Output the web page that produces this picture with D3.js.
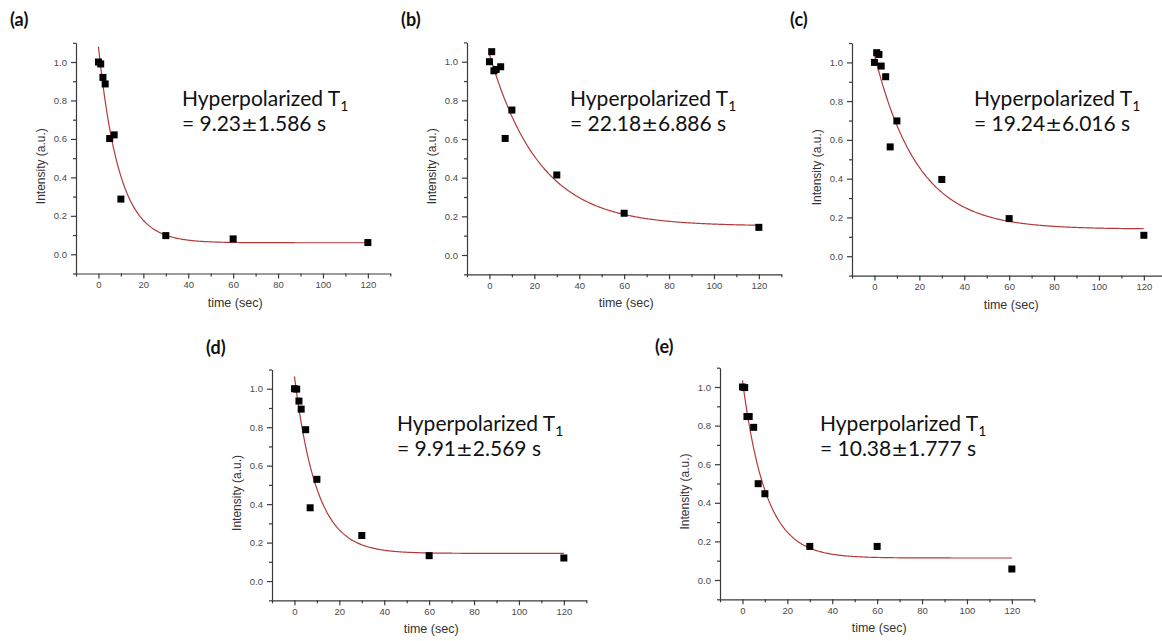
<!DOCTYPE html>
<html>
<head>
<meta charset="utf-8">
<script src="https://cdn.jsdelivr.net/npm/d3@7"></script>
<style>
  html, body { margin: 0; padding: 0; background: #fff; }
  svg { display: block; }
</style>
</head>
<body>
<script>
// Panel identifiers
const panelLabels = ["(a)", "(b)", "(c)", "(d)", "(e)"];

// Sampling times (s) and measured intensities (a.u.) for each panel
const timesA = [0, 1, 2, 3, 5, 7, 10, 30, 60, 120];
const intensA = [1.0, 0.99, 0.92, 0.886, 0.602, 0.621, 0.287, 0.097, 0.080, 0.061];

const timesB = [0, 1, 2, 3, 5, 7, 10, 30, 60, 120];
const intensB = [1.0, 1.052, 0.953, 0.960, 0.974, 0.603, 0.750, 0.414, 0.216, 0.143];

const timesC = [0, 1, 2, 3, 5, 7, 10, 30, 60, 120];
const intensC = [1.0, 1.050, 1.041, 0.981, 0.926, 0.564, 0.698, 0.396, 0.194, 0.108];

const timesD = [0, 1, 2, 3, 5, 7, 10, 30, 60, 120];
const intensD = [1.0, 0.998, 0.936, 0.894, 0.787, 0.381, 0.529, 0.237, 0.132, 0.120];

const timesE = [0, 1, 2, 3, 5, 7, 10, 30, 60, 120];
const intensE = [1.0, 0.997, 0.847, 0.847, 0.791, 0.499, 0.447, 0.174, 0.174, 0.057];

const panelTimes = [timesA, timesB, timesC, timesD, timesE];
const panelIntens = [intensA, intensB, intensC, intensD, intensE];

// Mono-exponential fit: I(t) = offset + amplitude * exp(-t / T1)
const fitT1 = [9.23, 22.18, 19.24, 9.91, 10.38];
const fitT1Err = [1.586, 6.886, 6.016, 2.569, 1.777];
const fitOffset = [0.06, 0.15, 0.14, 0.144, 0.114];
const fitAmplitude = [1.02, 0.89, 0.90, 0.92, 0.92];

// Axis ticks
const xMajorTicks = [0, 20, 40, 60, 80, 100, 120];
const xMinorTicks = [-10, 10, 30, 50, 70, 90, 110, 130];
const yMajorTicks = [0.0, 0.2, 0.4, 0.6, 0.8, 1.0];
const yMinorTicks = [-0.1, 0.1, 0.3, 0.5, 0.7, 0.9, 1.1];

// Plot frame for each panel (left edge, top, bottom of the axes box) and
// position of the panel letter and the T1 annotation
const frames = [
  { left: 76,  top: 42.8,  bottom: 273.5, labelX: 10,  labelY: 26,  noteX: 182, noteY: 106 },
  { left: 467, top: 42.4,  bottom: 274.3, labelX: 401, labelY: 26,  noteX: 570, noteY: 106 },
  { left: 852, top: 43.0,  bottom: 275.6, labelX: 790, labelY: 26,  noteX: 974, noteY: 106 },
  { left: 272, top: 369.5, bottom: 600.3, labelX: 206, labelY: 354, noteX: 397, noteY: 431 },
  { left: 720, top: 367.7, bottom: 599.3, labelX: 655, labelY: 353, noteX: 820, noteY: 431 }
];
const plotWidth = 314.3;

const W = 1162, H = 641;
const svg = d3.select("body").append("svg")
  .attr("width", W).attr("height", H)
  .attr("viewBox", `0 0 ${W} ${H}`);

const axisColor = "#3a3a3a";
const tickTextColor = "#4a4a4a";
const fitColor = "#b33a3a";
const axisFont = "'Liberation Sans', Arial, sans-serif";
const noteFont = "Lato, 'Open Sans', sans-serif";

panelLabels.forEach((label, i) => {
  const f = frames[i];
  const g = svg.append("g");

  const x = d3.scaleLinear().domain([-10, 130]).range([f.left, f.left + plotWidth]);
  const y = d3.scaleLinear().domain([-0.1, 1.1]).range([f.bottom, f.top]);

  // x axis: major ticks with labels, minor ticks without
  const gx = g.append("g").attr("transform", `translate(0,${f.bottom})`);
  gx.call(d3.axisBottom(x).tickValues(xMajorTicks).tickSize(5).tickSizeOuter(0)
    .tickPadding(3).tickFormat(d3.format("d")));
  gx.append("g").call(d3.axisBottom(x).tickValues(xMinorTicks).tickSize(3).tickSizeOuter(0).tickFormat(""))
    .select(".domain").remove();

  // y axis
  const gy = g.append("g").attr("transform", `translate(${f.left},0)`);
  gy.call(d3.axisLeft(y).tickValues(yMajorTicks).tickSize(5).tickSizeOuter(0)
    .tickPadding(4).tickFormat(d3.format(".1f")));
  gy.append("g").call(d3.axisLeft(y).tickValues(yMinorTicks).tickSize(3).tickSizeOuter(0).tickFormat(""))
    .select(".domain").remove();

  [gx, gy].forEach(a => {
    a.selectAll("path, line").attr("stroke", axisColor).attr("stroke-width", 1.2);
    a.selectAll("text").attr("fill", tickTextColor)
      .style("font-family", axisFont).style("font-size", "9.5px");
  });

  // axis titles
  g.append("text")
    .attr("x", (x(-10) + x(130)) / 2 + 2)
    .attr("y", f.bottom + 33)
    .attr("text-anchor", "middle")
    .attr("fill", "#333")
    .style("font-family", axisFont).style("font-size", "12.5px")
    .text("time (sec)");

  g.append("text")
    .attr("transform", `translate(${f.left - 31},${(f.top + f.bottom) / 2 + 8}) rotate(-90)`)
    .attr("text-anchor", "middle")
    .attr("fill", "#333")
    .style("font-family", axisFont).style("font-size", "12px")
    .text("Intensity (a.u.)");

  // fitted decay curve
  const tSamples = d3.range(0, 120.01, 0.5);
  const fit = t => fitOffset[i] + fitAmplitude[i] * Math.exp(-t / fitT1[i]);
  g.append("path")
    .datum(tSamples)
    .attr("fill", "none")
    .attr("stroke", fitColor)
    .attr("stroke-width", 1.2)
    .attr("d", d3.line().x(t => x(t)).y(t => y(fit(t))));

  // measured points
  const pts = panelTimes[i].map((t, k) => ({ t, v: panelIntens[i][k] }));
  const s = 7;
  g.selectAll("rect.pt").data(pts).join("rect")
    .attr("class", "pt")
    .attr("x", d => x(d.t) - s / 2)
    .attr("y", d => y(d.v) - s / 2)
    .attr("width", s).attr("height", s)
    .attr("fill", "#000");

  // panel letter
  svg.append("text")
    .attr("x", f.labelX).attr("y", f.labelY)
    .style("font-family", noteFont).style("font-weight", "bold").style("font-size", "18px")
    .attr("fill", "#111")
    .text(label);

  // T1 annotation
  const note = g.append("text")
    .attr("x", f.noteX).attr("y", f.noteY)
    .attr("fill", "#111")
    .style("font-family", noteFont).style("font-size", "21px");
  note.append("tspan").text("Hyperpolarized T");
  note.append("tspan").attr("dy", 5).style("font-size", "14px").text("1");

  const note2 = g.append("text")
    .attr("x", f.noteX).attr("y", f.noteY + 25)
    .attr("fill", "#111")
    .style("font-family", noteFont).style("font-size", "21px");
  note2.append("tspan").text(`= ${fitT1[i].toFixed(2)}`);
  note2.append("tspan").style("font-family", "'DejaVu Sans', sans-serif").style("font-size", "20px").text("±");
  note2.append("tspan").text(`${fitT1Err[i].toFixed(3)} s`);
});
</script>
</body>
</html>
